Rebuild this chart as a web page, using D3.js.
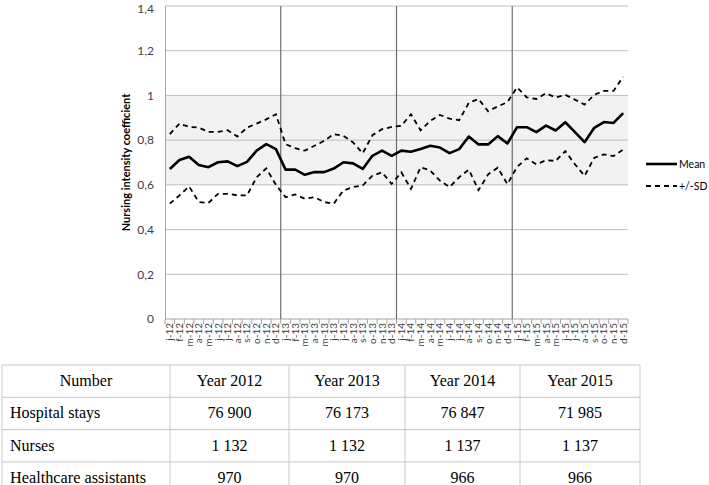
<!DOCTYPE html>
<html>
<head>
<meta charset="utf-8">
<script src="https://cdn.jsdelivr.net/npm/d3@7"></script>
<style>
  html, body { margin: 0; padding: 0; background: #fff; }
  svg { display: block; }
</style>
</head>
<body>
<svg id="chart" width="709" height="485"></svg>
<script>
// ---------- DATA ----------
const categories = [
  "j-12","f-12","m-12","a-12","m-12","j-12","j-12","a-12","s-12","o-12","n-12","d-12",
  "j-13","f-13","m-13","a-13","m-13","j-13","j-13","a-13","s-13","o-13","n-13","d-13",
  "j-14","f-14","m-14","a-14","m-14","j-14","j-14","a-14","s-14","o-14","n-14","d-14",
  "j-15","f-15","m-15","a-15","m-15","j-15","j-15","a-15","s-15","o-15","n-15","d-15"
];
const meanValues = [
  0.671,0.711,0.726,0.689,0.679,0.701,0.705,0.684,0.703,0.753,0.782,0.760,
  0.668,0.668,0.645,0.657,0.657,0.673,0.701,0.696,0.671,0.730,0.753,0.730,
  0.753,0.748,0.760,0.775,0.767,0.742,0.760,0.816,0.781,0.781,0.818,0.785,
  0.858,0.858,0.836,0.865,0.843,0.880,0.836,0.791,0.855,0.881,0.877,0.921
];
const upperSD = [
  0.827,0.874,0.859,0.856,0.837,0.837,0.844,0.816,0.856,0.874,0.893,0.916,
  0.782,0.764,0.753,0.775,0.797,0.827,0.819,0.790,0.741,0.822,0.849,0.859,
  0.864,0.916,0.844,0.886,0.913,0.896,0.889,0.967,0.984,0.929,0.951,0.970,
  1.036,0.991,0.984,1.010,0.991,1.003,0.981,0.959,1.003,1.020,1.020,1.084
];
const lowerSD = [
  0.516,0.553,0.593,0.523,0.519,0.560,0.560,0.553,0.553,0.634,0.674,0.600,
  0.545,0.557,0.538,0.545,0.523,0.516,0.575,0.590,0.597,0.641,0.656,0.604,
  0.656,0.582,0.679,0.664,0.619,0.590,0.634,0.668,0.576,0.647,0.677,0.603,
  0.680,0.719,0.692,0.710,0.707,0.751,0.692,0.640,0.721,0.736,0.729,0.758
];
const yTicks = [0, 0.2, 0.4, 0.6, 0.8, 1, 1.2, 1.4];
const yTickLabels = ["0", "0,2", "0,4", "0,6", "0,8", "1", "1,2", "1,4"];
const bandRange = [0.6, 1.0];
const yearStarts = [12, 24, 36];
const legendLabels = ["Mean", "+/-SD"];
const yTitle = "Nursing intensity coefficient";

const tableHeader = ["Number", "Year 2012", "Year 2013", "Year 2014", "Year 2015"];
const rowLabels = ["Hospital stays", "Nurses", "Healthcare assistants"];
const hospitalStays = ["76 900", "76 173", "76 847", "71 985"];
const nurses = ["1 132", "1 132", "1 137", "1 137"];
const healthcareAssistants = ["970", "970", "966", "966"];

// ---------- CHART ----------
(function () {
const svg = d3.select("#chart");
const pLeft = 165, pRight = 628, pTop = 6, pBottom = 319;
const axisFont = "Lato, 'Open Sans', sans-serif";

const x = d3.scaleBand().domain(d3.range(categories.length)).range([pLeft, pRight]);
const y = d3.scaleLinear().domain([0, 1.4]).range([pBottom, pTop]);
const cx = i => x(i) + x.bandwidth() / 2;

// shaded band
svg.append("rect")
  .attr("x", pLeft).attr("width", pRight - pLeft)
  .attr("y", y(bandRange[1])).attr("height", y(bandRange[0]) - y(bandRange[1]))
  .attr("fill", "#f2f2f2");

// gridlines
svg.append("g").selectAll("line").data(yTicks.filter(d => d > 0)).join("line")
  .attr("x1", pLeft).attr("x2", pRight)
  .attr("y1", d => y(d)).attr("y2", d => y(d))
  .attr("stroke", "#bfbfbf").attr("stroke-width", 1);

// y axis
const yAxis = d3.axisLeft(y).tickValues(yTicks)
  .tickFormat((d, i) => yTickLabels[i]).tickSize(0).tickPadding(11);
const gy = svg.append("g").attr("transform", `translate(${pLeft},0)`).call(yAxis);
gy.select(".domain").attr("stroke", "#a6a6a6");
gy.selectAll("text").attr("font-family", axisFont).attr("font-size", 12).attr("fill", "#404040");
gy.selectAll(".tick").filter(d => d === 1.4).select("text").attr("dy", "0.5em");

// x axis line
svg.append("line").attr("x1", pLeft).attr("x2", pRight)
  .attr("y1", pBottom).attr("y2", pBottom).attr("stroke", "#a6a6a6");

// x ticks at boundaries
svg.append("g").selectAll("line").data(d3.range(categories.length + 1)).join("line")
  .attr("x1", i => i < categories.length ? x(i) : pRight)
  .attr("x2", i => i < categories.length ? x(i) : pRight)
  .attr("y1", pBottom).attr("y2", pBottom + 5)
  .attr("stroke", "#a6a6a6");

// x labels rotated
svg.append("g").selectAll("text").data(categories).join("text")
  .attr("transform", (d, i) => `translate(${cx(i) + 3.5},${pBottom + 4}) rotate(-90)`)
  .attr("text-anchor", "end")
  .attr("font-family", axisFont).attr("font-size", 10).attr("fill", "#404040")
  .text(d => d);

// year separators
svg.append("g").selectAll("line").data(yearStarts).join("line")
  .attr("x1", d => x(d)).attr("x2", d => x(d))
  .attr("y1", pTop).attr("y2", pBottom)
  .attr("stroke", "#6e6e6e").attr("stroke-width", 1.2);

// lines
const line = d3.line().x((d, i) => cx(i)).y(d => y(d));
svg.append("path").datum(upperSD).attr("d", line)
  .attr("fill", "none").attr("stroke", "#000").attr("stroke-width", 1.8)
  .attr("stroke-dasharray", "5,4");
svg.append("path").datum(lowerSD).attr("d", line)
  .attr("fill", "none").attr("stroke", "#000").attr("stroke-width", 1.8)
  .attr("stroke-dasharray", "5,4");
svg.append("path").datum(meanValues).attr("d", line)
  .attr("fill", "none").attr("stroke", "#000").attr("stroke-width", 2.6)
  .attr("stroke-linejoin", "round");

// y title
svg.append("text")
  .attr("transform", `translate(130,${(pTop + pBottom) / 2}) rotate(-90)`)
  .attr("text-anchor", "middle")
  .attr("font-family", axisFont).attr("font-size", 11).attr("font-weight", "bold")
  .attr("fill", "#000").text(yTitle);

// legend
const lg = svg.append("g");
legendLabels.forEach((lab, i) => {
  const ly = 164 + i * 22;
  lg.append("line").attr("x1", 646).attr("x2", 677).attr("y1", ly).attr("y2", ly)
    .attr("stroke", "#000")
    .attr("stroke-width", i === 0 ? 2.6 : 1.8)
    .attr("stroke-dasharray", i === 0 ? null : "5,4");
  lg.append("text").attr("x", 679).attr("y", ly + 4)
    .attr("font-family", axisFont).attr("font-size", 10.5).attr("fill", "#000")
    .text(lab);
});

// ---------- TABLE ----------
const colEdges = [2, 170, 289, 405, 520, 640];
const tableTop = 365, rowH = 32.3;
const rows = [tableHeader,
  [rowLabels[0], ...hospitalStays],
  [rowLabels[1], ...nurses],
  [rowLabels[2], ...healthcareAssistants]];
const tg = svg.append("g");
const serif = "'Liberation Serif', 'Times New Roman', serif";

tg.selectAll("line.h").data(d3.range(rows.length + 1)).join("line")
  .attr("class", "h")
  .attr("x1", colEdges[0]).attr("x2", colEdges[colEdges.length - 1])
  .attr("y1", i => tableTop + i * rowH).attr("y2", i => tableTop + i * rowH)
  .attr("stroke", "#c8c8c8").attr("stroke-width", 1);
tg.selectAll("line.v").data(colEdges).join("line")
  .attr("class", "v")
  .attr("x1", d => d).attr("x2", d => d)
  .attr("y1", tableTop).attr("y2", tableTop + rows.length * rowH)
  .attr("stroke", "#c8c8c8").attr("stroke-width", 1);

rows.forEach((r, ri) => {
  r.forEach((cell, ci) => {
    const leftAlign = ci === 0 && ri > 0;
    const t = tg.append("text")
      .attr("x", leftAlign ? colEdges[0] + 8 : (colEdges[ci] + colEdges[ci + 1]) / 2)
      .attr("y", tableTop + ri * rowH + rowH / 2 + 5)
      .attr("text-anchor", leftAlign ? "start" : "middle")
      .attr("font-family", serif).attr("font-size", 16).attr("fill", "#000")
      .text(cell);
    if (leftAlign && cell.length > 18) t.attr("textLength", 136).attr("lengthAdjust", "spacingAndGlyphs");
  });
});
})();
</script>
</body>
</html>
